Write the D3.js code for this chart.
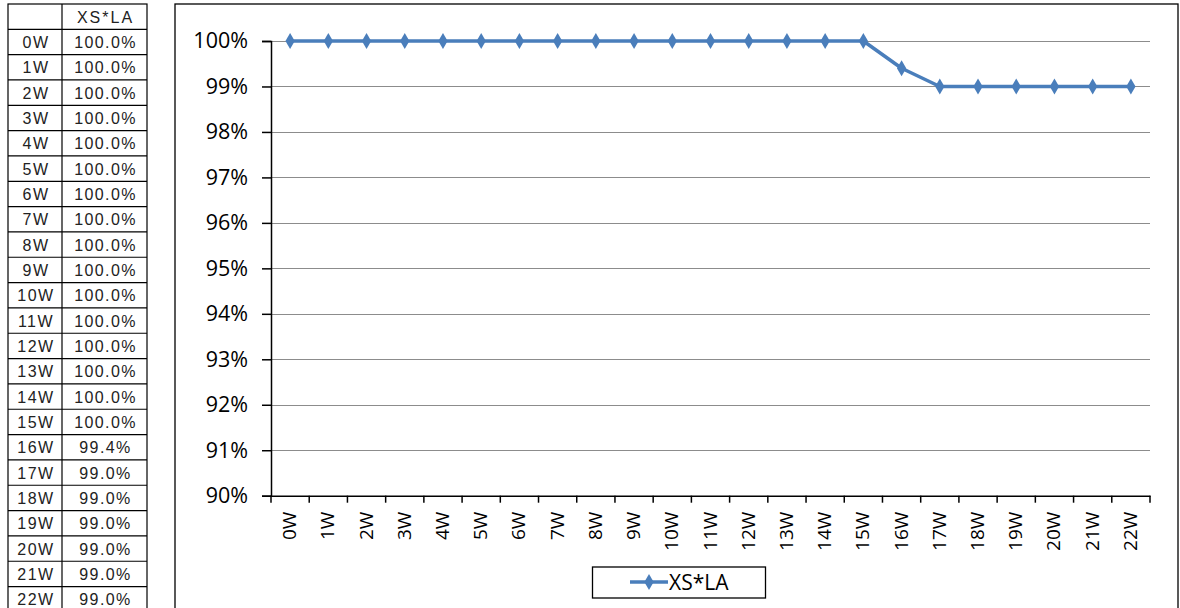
<!DOCTYPE html>
<html><head><meta charset="utf-8">
<script src="https://cdn.jsdelivr.net/npm/d3@7"></script>
<style>
html,body{margin:0;padding:0;background:#fff;}
svg{display:block;}
</style></head>
<body>
<svg id="c" width="1180" height="608"></svg>
<script>
const categories = ["0W","1W","2W","3W","4W","5W","6W","7W","8W","9W","10W","11W","12W","13W","14W","15W","16W","17W","18W","19W","20W","21W","22W"];
const seriesName = "XS*LA";
const values = [100,100,100,100,100,100,100,100,100,100,100,100,100,100,100,100,99.4,99,99,99,99,99,99];
const yTicks = [90,91,92,93,94,95,96,97,98,99,100];

const svg = d3.select("#c");
const lineColor = "#4a7ebb";
const labelFont = "'Open Sans', sans-serif";

// ---- data table on the left ----
const tbl = svg.append("g");
const tX0 = 8, tX1 = 62, tX2 = 147;
const rowY = d3.scaleLinear().domain([0, 1]).range([29.3, 29.3 + 25.33]);
tbl.append("rect").attr("x", tX0).attr("y", 4).attr("width", tX2 - tX0).attr("height", rowY(categories.length) - 4 + 2)
  .attr("fill", "none").attr("stroke", "#000").attr("stroke-width", 1.2);
tbl.append("line").attr("x1", tX1).attr("x2", tX1).attr("y1", 4).attr("y2", 620).attr("stroke", "#000").attr("stroke-width", 1.2);
for (let i = 0; i <= categories.length; i++) {
  tbl.append("line").attr("x1", tX0).attr("x2", tX2).attr("y1", rowY(i)).attr("y2", rowY(i))
    .attr("stroke", "#000").attr("stroke-width", 1.2);
}
const tFont = "'Liberation Sans', Arial, sans-serif";
tbl.append("text").attr("x", (tX1 + tX2) / 2 + 1).attr("y", 23).attr("text-anchor", "middle")
  .attr("font-family", tFont).attr("font-size", 16).attr("letter-spacing", 2).attr("fill", "#222").text(seriesName);
categories.forEach((c, i) => {
  const yc = rowY(i + 0.5) + 6;
  tbl.append("text").attr("x", (tX0 + tX1) / 2 + 1).attr("y", yc).attr("text-anchor", "middle")
    .attr("font-family", tFont).attr("font-size", 16).attr("letter-spacing", 1.5).attr("fill", "#222").text(c);
  tbl.append("text").attr("x", (tX1 + tX2) / 2 + 1).attr("y", yc).attr("text-anchor", "middle")
    .attr("font-family", tFont).attr("font-size", 16).attr("letter-spacing", 1.4).attr("fill", "#222")
    .text(values[i].toFixed(1) + "%");
});

// ---- chart frame ----
svg.append("rect").attr("x", 175).attr("y", 4).attr("width", 1003).attr("height", 640)
  .attr("fill", "#fff").attr("stroke", "#000").attr("stroke-width", 1.3);

// ---- scales ----
const x0 = 271, x1 = 1150, yTop = 41, yBot = 495.7;
const x = d3.scaleBand().domain(categories).range([x0, x1]);
const y = d3.scaleLinear().domain([90, 100]).range([yBot, yTop]);

// gridlines
svg.append("g").selectAll("line").data(yTicks.filter(t => t > 90)).join("line")
  .attr("x1", x0).attr("x2", x1).attr("y1", d => Math.round(y(d)) + 0.5).attr("y2", d => Math.round(y(d)) + 0.5)
  .attr("stroke", "#8c8c8c").attr("stroke-width", 1.2);

// y axis
const yAxis = svg.append("g").attr("transform", `translate(${x0},0)`)
  .call(d3.axisLeft(y).tickValues(yTicks).tickFormat(d => d + "%").tickSize(9).tickPadding(14));
yAxis.select(".domain").attr("stroke", "#000").attr("stroke-width", 1.5);
yAxis.selectAll(".tick line").attr("stroke", "#000").attr("stroke-width", 1.5);
yAxis.selectAll(".tick text").attr("font-family", labelFont).attr("font-size", 21.5).attr("fill", "#000");

// x axis
const xAxis = svg.append("g").attr("transform", `translate(0,${yBot})`)
  .call(d3.axisBottom(x).tickSize(0).tickSizeOuter(0));
xAxis.select(".domain").attr("stroke", "#000").attr("stroke-width", 1.5);
xAxis.selectAll(".tick text").remove();
// tick marks at band boundaries
const bounds = categories.map(c => x(c)).concat([x1]);
svg.append("g").selectAll("line").data(bounds).join("line")
  .attr("x1", d => d).attr("x2", d => d).attr("y1", yBot).attr("y2", yBot + 7)
  .attr("stroke", "#000").attr("stroke-width", 1.5);
// rotated labels
svg.append("g").selectAll("text").data(categories).join("text")
  .attr("transform", d => `translate(${x(d) + x.bandwidth() / 2 + 6},${yBot + 16}) rotate(-90)`)
  .attr("text-anchor", "end")
  .attr("font-family", labelFont).attr("font-size", 19).attr("fill", "#000").text(d => d);

// line + markers
const pts = categories.map((c, i) => [x(c) + x.bandwidth() / 2, y(values[i])]);
svg.append("path").datum(pts).attr("d", d3.line())
  .attr("fill", "none").attr("stroke", lineColor).attr("stroke-width", 3.5).attr("stroke-linejoin", "round");
const diamond = d3.symbol().type(d3.symbolDiamond).size(75);
svg.append("g").selectAll("path").data(pts).join("path")
  .attr("transform", d => `translate(${d[0]},${d[1]})`).attr("d", diamond).attr("fill", lineColor);

// legend
const lg = svg.append("g");
lg.append("rect").attr("x", 592.5).attr("y", 567).attr("width", 173).attr("height", 31)
  .attr("fill", "#fff").attr("stroke", "#000").attr("stroke-width", 1.3);
lg.append("line").attr("x1", 630).attr("x2", 668).attr("y1", 582).attr("y2", 582)
  .attr("stroke", lineColor).attr("stroke-width", 3.5);
lg.append("path").attr("transform", "translate(649,582)").attr("d", diamond).attr("fill", lineColor);
lg.append("text").attr("x", 669).attr("y", 590).attr("font-family", labelFont).attr("font-size", 21)
  .attr("fill", "#000").text(seriesName);
</script>
</body></html>
